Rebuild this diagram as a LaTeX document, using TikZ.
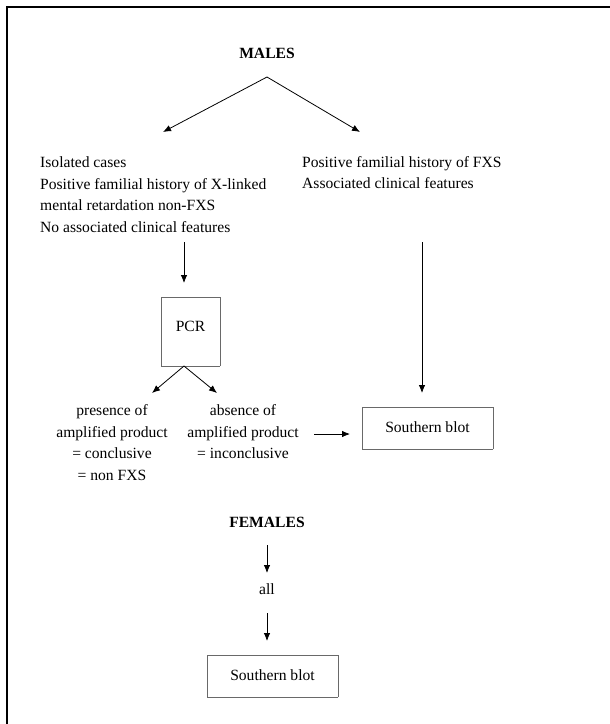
\documentclass[tikz,border=0pt]{standalone}
\usepackage{fontspec}
\setmainfont{Liberation Serif}
\usepackage[svgnames]{xcolor}
\usetikzlibrary{arrows.meta}
\tikzstyle{none}=[inner sep=0pt]
\tikzstyle{arrow}=[-{Latex[length=8,width=6.5]},draw=Black,line width=0.8]
\tikzstyle{frame}=[draw=Black,line width=2.2]
\tikzstyle{box}=[draw=DimGray,line width=1]

\begin{document}
\begin{tikzpicture}[x=1pt,y=-1pt,font=\fontsize{15.6}{21.5}\selectfont]
 \useasboundingbox (0,0) rectangle (610,724);
 \node [style=none] (0) at (7, 724) {};
 \node [style=none] (1) at (7, 7) {};
 \node [style=none] (2) at (610, 7) {};
 \node [style=none] (3) at (267, 53)     {\bfseries MALES};
 \node [style=none] (4) at (267, 77) {};
 \node [style=none] (5) at (163, 132) {};
 \node [style=none] (6) at (360, 132) {};
 \node [style=none,align=left,anchor=west] (7) at (40, 194.5)
   {Isolated cases\\Positive familial history of X-linked\\mental retardation non-FXS\\No associated clinical features};
 \node [style=none,align=left,anchor=west] (8) at (302, 172.5)
   {Positive familial history of FXS\\Associated clinical features};
 \node [style=none] (9) at (184, 242) {};
 \node [style=none] (10) at (184, 283) {};
 \node [style=none] (11) at (161, 297) {};
 \node [style=none] (12) at (220, 297) {};
 \node [style=none] (13) at (220, 366) {};
 \node [style=none] (14) at (161, 366) {};
 \node [style=none] (15) at (190.5, 326)  {PCR};
 \node [style=none] (16) at (184, 366) {};
 \node [style=none] (17) at (152, 393) {};
 \node [style=none] (18) at (217, 393) {};
 \node [style=none] (19) at (422, 242) {};
 \node [style=none] (20) at (422, 393) {};
 \node [style=none,align=center] (21) at (112, 442.5)
   {presence of\\amplified product\\= conclusive\\= non FXS};
 \node [style=none,align=center] (22) at (243, 432)
   {absence of\\amplified product\\= inconclusive};
 \node [style=none] (23) at (314, 434) {};
 \node [style=none] (24) at (350, 434) {};
 \node [style=none] (25) at (362, 407) {};
 \node [style=none] (26) at (493, 407) {};
 \node [style=none] (27) at (493, 449) {};
 \node [style=none] (28) at (362, 449) {};
 \node [style=none] (29) at (427.5, 427) {Southern blot};
 \node [style=none] (30) at (267, 522)    {\bfseries FEMALES};
 \node [style=none] (31) at (267, 545) {};
 \node [style=none] (32) at (267, 573) {};
 \node [style=none] (33) at (267, 589)    {all};
 \node [style=none] (34) at (267, 613) {};
 \node [style=none] (35) at (267, 641) {};
 \node [style=none] (36) at (207, 655) {};
 \node [style=none] (37) at (338, 655) {};
 \node [style=none] (38) at (338, 697) {};
 \node [style=none] (39) at (207, 697) {};
 \node [style=none] (40) at (272.5, 675)  {Southern blot};
 \draw [style=frame] (0.center) to (1.center) to (2.center);
 \draw [style=arrow] (4.center) to (5.center);
 \draw [style=arrow] (4.center) to (6.center);
 \draw [style=arrow] (9.center) to (10.center);
 \draw [style=box] (11.center) to (12.center);
 \draw [style=box] (12.center) to (13.center);
 \draw [style=box] (13.center) to (14.center);
 \draw [style=box] (14.center) to (11.center);
 \draw [style=arrow] (16.center) to (17.center);
 \draw [style=arrow] (16.center) to (18.center);
 \draw [style=arrow] (19.center) to (20.center);
 \draw [style=arrow] (23.center) to (24.center);
 \draw [style=box] (25.center) to (26.center);
 \draw [style=box] (26.center) to (27.center);
 \draw [style=box] (27.center) to (28.center);
 \draw [style=box] (28.center) to (25.center);
 \draw [style=arrow] (31.center) to (32.center);
 \draw [style=arrow] (34.center) to (35.center);
 \draw [style=box] (36.center) to (37.center);
 \draw [style=box] (37.center) to (38.center);
 \draw [style=box] (38.center) to (39.center);
 \draw [style=box] (39.center) to (36.center);
\end{tikzpicture}
\end{document}
